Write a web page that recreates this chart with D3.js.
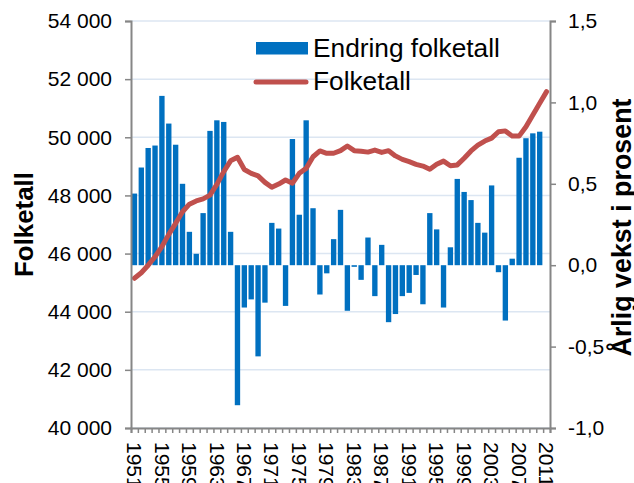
<!DOCTYPE html>
<html>
<head>
<meta charset="utf-8">
<script src="https://cdn.jsdelivr.net/npm/d3@7"></script>
<style>
  html, body { margin: 0; padding: 0; background: #fff; }
  svg { display: block; font-family: "Liberation Sans", Arial, sans-serif; }
</style>
</head>
<body>
<svg id="chart" width="634" height="483"></svg>
<script>
// ---- data ----
const years = [1951,1952,1953,1954,1955,1956,1957,1958,1959,1960,
  1961,1962,1963,1964,1965,1966,1967,1968,1969,1970,
  1971,1972,1973,1974,1975,1976,1977,1978,1979,1980,
  1981,1982,1983,1984,1985,1986,1987,1988,1989,1990,
  1991,1992,1993,1994,1995,1996,1997,1998,1999,2000,
  2001,2002,2003,2004,2005,2006,2007,2008,2009,2010,2011];

// Endring folketall (annual growth, percent, right axis)
const growth = [0.44,0.60,0.72,0.735,1.04,0.87,0.74,0.50,0.205,0.07,
  0.32,0.825,0.89,0.88,0.205,-0.86,-0.26,-0.21,-0.56,-0.23,
  0.26,0.225,-0.25,0.775,0.31,0.89,0.35,-0.18,-0.05,0.16,
  0.34,-0.28,-0.01,-0.09,0.17,-0.19,0.125,-0.35,-0.30,-0.19,
  -0.17,-0.06,-0.24,0.32,0.22,-0.26,0.11,0.53,0.45,0.40,
  0.26,0.20,0.49,-0.043,-0.34,0.04,0.66,0.78,0.81,0.82,null];

// Folketall (population, left axis)
const population = [45150,45340,45600,45890,46240,46660,47040,47440,47700,47810,
  47880,48010,48380,48820,49190,49310,48890,48760,48670,48450,
  48280,48390,48530,48420,48760,48930,49330,49530,49450,49450,
  49540,49700,49540,49520,49490,49560,49480,49540,49360,49240,
  49160,49070,49010,48900,49070,49180,49020,49050,49280,49530,
  49730,49870,49970,50190,50220,50040,50040,50360,50770,51170,51570];

const leftTicks = [40000,42000,44000,46000,48000,50000,52000,54000];
const rightTicks = [-1.0,-0.5,0.0,0.5,1.0,1.5];
const xLabelYears = [1951,1955,1959,1963,1967,1971,1975,1979,1983,1987,1991,1995,1999,2003,2007,2011];

const seriesNames = ["Endring folketall", "Folketall"];
const leftTitle = "Folketall";
const rightTitle = "Årlig vekst i prosent";

// ---- layout ----
const L = 131, R = 550, T = 21, B = 428;
const svg = d3.select("#chart");
const axisColor = "#868686";
const gridColor = "#DCE6F2";
const barColor = "#0070C0";
const lineColor = "#C0504D";

const x = d3.scaleBand().domain(years).range([L, R]).paddingInner(0.22).paddingOuter(0.11);
const xEdge = d3.scaleLinear().domain([0, years.length]).range([L, R]);
const yL = d3.scaleLinear().domain([40000, 54000]).range([B, T]);
const yR = d3.scaleLinear().domain([-1.0, 1.5]).range([B, T]);

const fmtL = v => d3.format(",")(v).replace(/,/g, " ");
const fmtR = v => d3.format(".1f")(v).replace(".", ",").replace("\u2212", "-");

// gridlines
svg.append("g").selectAll("line").data(leftTicks).join("line")
  .attr("x1", L).attr("x2", R)
  .attr("y1", d => yL(d)).attr("y2", d => yL(d))
  .attr("stroke", gridColor).attr("stroke-width", 1.5);

// bars
const barData = years.map((yr, i) => ({yr, v: growth[i]})).filter(d => d.v !== null);
svg.append("g").selectAll("rect").data(barData).join("rect")
  .attr("x", d => x(d.yr))
  .attr("width", x.bandwidth())
  .attr("y", d => Math.min(yR(d.v), yR(0)))
  .attr("height", d => Math.abs(yR(d.v) - yR(0)))
  .attr("fill", barColor);

// line
const line = d3.line()
  .x((d, i) => x(years[i]) + x.bandwidth() / 2)
  .y(d => yL(d));
svg.append("path").datum(population)
  .attr("d", line)
  .attr("fill", "none")
  .attr("stroke", lineColor)
  .attr("stroke-width", 5)
  .attr("stroke-linejoin", "round")
  .attr("stroke-linecap", "round");

// left axis
const gL = svg.append("g").attr("transform", `translate(${L},0)`)
  .call(d3.axisLeft(yL).tickValues(leftTicks).tickFormat(fmtL).tickSize(6).tickPadding(13));
// right axis
const gR = svg.append("g").attr("transform", `translate(${R},0)`)
  .call(d3.axisRight(yR).tickValues(rightTicks).tickFormat(fmtR).tickSize(6).tickPadding(12));
// bottom tick marks (category boundaries)
const gB = svg.append("g").attr("transform", `translate(0,${B})`)
  .call(d3.axisBottom(xEdge).tickValues(d3.range(years.length + 1)).tickFormat("").tickSize(5));
// bottom labels
const gBL = svg.append("g").attr("transform", `translate(0,${B})`)
  .call(d3.axisBottom(x).tickValues(xLabelYears).tickSize(0).tickPadding(0));
gBL.select(".domain").remove();
gBL.selectAll("text")
  .attr("transform", "translate(0,14) rotate(90)")
  .attr("x", 0).attr("y", 0).attr("dy", "0.35em")
  .attr("text-anchor", "start");

[gL, gR, gB].forEach(g => {
  g.select(".domain").attr("stroke", axisColor).attr("stroke-width", 2);
  g.selectAll(".tick line").attr("stroke", axisColor).attr("stroke-width", 1.5);
});
[gL, gR, gBL].forEach(g => {
  g.selectAll("text").attr("font-size", 21).attr("fill", "#000")
    .attr("font-family", "'Liberation Sans', Arial, sans-serif");
});

// fit a text's font size so its length matches a target width
function fitText(sel, base, target) {
  sel.attr("font-size", base);
  const len = sel.node().getComputedTextLength();
  if (len > 0) sel.attr("font-size", base * target / len);
  return sel;
}

// axis titles
const tL = svg.append("text")
  .attr("transform", `translate(${33},${224.5}) rotate(-90)`)
  .attr("text-anchor", "middle")
  .attr("font-weight", "bold")
  .text(leftTitle);
fitText(tL, 26, 105);
const tR = svg.append("text")
  .attr("transform", `translate(${631},${227.5}) rotate(-90)`)
  .attr("text-anchor", "middle")
  .attr("font-weight", "bold")
  .text(rightTitle);
fitText(tR, 26, 258);

// legend
const lg = svg.append("g");
lg.append("rect").attr("x", 256).attr("y", 42).attr("width", 52).attr("height", 12.5).attr("fill", barColor);
const lt1 = lg.append("text").attr("x", 313).attr("y", 57).text(seriesNames[0]);
fitText(lt1, 25, 187);
lg.append("line").attr("x1", 256).attr("x2", 306).attr("y1", 82).attr("y2", 82)
  .attr("stroke", lineColor).attr("stroke-width", 5).attr("stroke-linecap", "round");
lg.append("text").attr("x", 313).attr("y", 90).attr("font-size", lt1.attr("font-size")).text(seriesNames[1]);
</script>
</body>
</html>
